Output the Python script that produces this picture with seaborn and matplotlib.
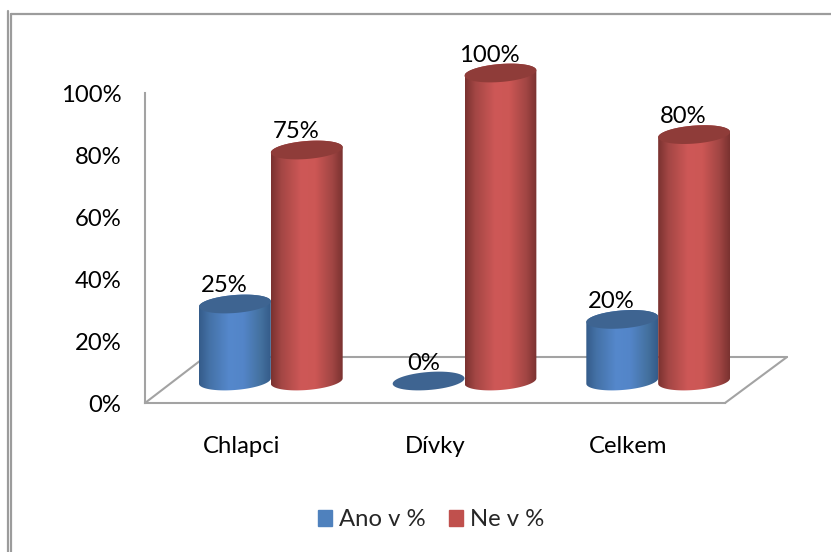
import numpy as np
import pandas as pd
import seaborn as sns
import matplotlib.pyplot as plt
from matplotlib.lines import Line2D
from matplotlib.patches import Patch, Polygon
from matplotlib.colors import LinearSegmentedColormap

groups = ["Chlapci", "Dívky", "Celkem"]
series = ["Ano v %", "Ne v %"]
ano = [25, 0, 20]
ne = [75, 100, 80]
y_ticks = [0, 20, 40, 60, 80, 100]

W, H = 831, 552
GREY = "#a3a3a3"

sns.set_style("white")
plt.rcParams["font.family"] = ["Lato", "DejaVu Sans"]
plt.rcParams["font.size"] = 17.2


def box(left, top, right, bottom):
    # pixel box from the top left corner -> figure fractions
    return [left / W, 1 - bottom / H, (right - left) / W, (bottom - top) / H]


df = pd.DataFrame({
    "group": groups * 2,
    "series": [series[0]] * 3 + [series[1]] * 3,
    "value": ano + ne,
})

fig = plt.figure(figsize=(W / 100, H / 100), dpi=100, facecolor="white")

# outer frame of the picture
frame = [((7.5, 7.5), (11, 552)), ((11, 11), (14, 552)), ((11, 831), (14, 14))]
for xs, ys in frame:
    fig.add_artist(Line2D([x / W for x in xs], [1 - y / H for y in ys],
                          color="#9c9c9c", lw=1.6))

# walls with the axis labels
wall = fig.add_axes(box(145, 93, 725, 403))
wall.set_xlim(-0.5, 2.5)
wall.set_ylim(0, 100)
wall.set_facecolor("none")
wall.set_xticks(range(3), groups)
wall.set_yticks(y_ticks, [f"{v}%" for v in y_ticks])
wall.tick_params(axis="y", length=0, pad=17, labelcolor="black")
wall.tick_params(axis="x", length=0, pad=24, labelcolor="black")
for side in ["top", "right"]:
    wall.spines[side].set_visible(False)
for side in ["left", "bottom"]:
    wall.spines[side].set_color(GREY)
    wall.spines[side].set_linewidth(1.5)

# floor
back_l = (60 / 580, 46 / 310)
back_r = (642 / 580, 46 / 310)
for pts in [[(0, 0), back_l], [back_l, back_r], [back_r, (1, 0)]]:
    wall.plot(*zip(*pts), transform=wall.transAxes, color=GREY, lw=1.5,
              clip_on=False, zorder=1)

# bars stand on the floor, shifted away from the walls
ax = fig.add_axes(box(174, 73, 755, 381))
ax.set_facecolor("none")
sns.barplot(data=df, x="group", y="value", hue="series", order=groups,
            hue_order=series, width=0.742, gap=0, dodge=True,
            palette=["#4f81bd", "#c0504d"], legend=False, ax=ax)
ax.set_xlim(-0.5, 2.5)
ax.set_ylim(0, 100)
ax.axis("off")

stops = [0, 0.14, 0.42, 0.62, 0.86, 1]
shades = {
    0: (["#355c8a", "#4471a6", "#5588cc", "#5385c8", "#44719f", "#355c8a"], "#3e6491"),
    1: (["#7a3230", "#a34644", "#ce5857", "#cc5755", "#a04543", "#7a3230"], "#8f3c39"),
}
px_x = 581 / 3  # pixels for one category
px_y = 3.08     # pixels for one percent
bars = list(ax.patches)
for i, bar in enumerate(bars):
    if bar.get_width() == 0:
        continue
    s = i // 3
    cx = bar.get_x() + bar.get_width() / 2
    a = bar.get_width() / 2
    top = bar.get_height()
    b = 9 / px_y
    tilt = 0.075 * (a * px_x) / px_y
    bar.set_visible(False)

    t = np.linspace(0, np.pi, 60)
    upper = np.c_[cx + a * np.cos(t), top + b * np.sin(t) + tilt * np.cos(t)]
    t2 = np.linspace(np.pi, 2 * np.pi, 60)
    lower = np.c_[cx + a * np.cos(t2), b * np.sin(t2) + tilt * np.cos(t2)]
    z = 3 + s + i % 3 * 3

    colors, lid = shades[s]
    if top > 0:
        body = Polygon(np.r_[lower, upper], closed=True, transform=ax.transData,
                       fc="none", ec="none", clip_on=False)
        ax.add_patch(body)
        cmap = LinearSegmentedColormap.from_list("cyl", list(zip(stops, colors)))
        img = ax.imshow(np.linspace(0, 1, 200)[None, :], cmap=cmap, aspect="auto",
                        extent=(cx - a, cx + a, -10, top + 10), zorder=z)
        img.set_clip_box(fig.bbox)
        img.set_clip_path(body)
    ax.add_patch(Polygon(
        np.c_[cx + a * np.cos(2 * t), top + b * np.sin(2 * t) + tilt * np.cos(2 * t)],
        closed=True, fc=lid, ec="none", zorder=z + 0.5, clip_on=False))

    label = ano[i % 3] if s == 0 else ne[i % 3]
    ax.annotate(f"{label}%", (cx, top), xytext=(-5 if label == 0 else -11, 18),
                textcoords="offset pixels", ha="center", va="center",
                color="black", zorder=20, annotation_clip=False)
ax.set_xlim(-0.5, 2.5)
ax.set_ylim(0, 100)

handles = [Patch(color="#4f81bd", label=series[0]), Patch(color="#c0504d", label=series[1])]
fig.legend(handles=handles, loc="center", bbox_to_anchor=(431 / W, 1 - 520 / H), ncol=2,
           frameon=False, handlelength=0.6, handleheight=0.6, handletextpad=0.3,
           columnspacing=0.95, borderpad=0)

fig.savefig("out.png", dpi=100)
